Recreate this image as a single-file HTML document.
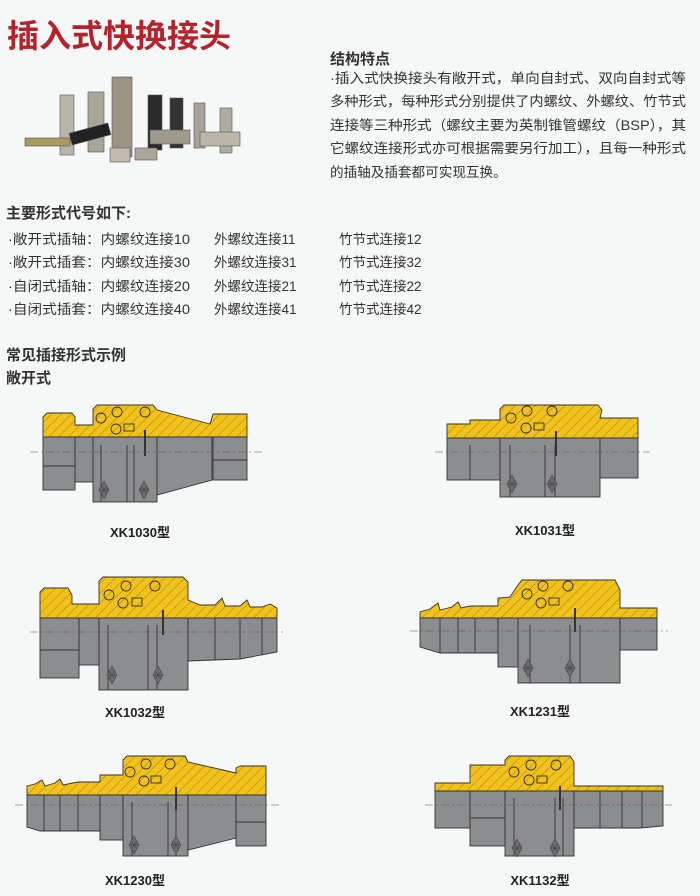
<!DOCTYPE html>
<html><head><meta charset="utf-8"><style>
html,body{margin:0;padding:0;background:#f6f7f7;}
svg{display:block}
text{font-family:"Liberation Sans","Noto Sans CJK SC",sans-serif;}
</style></head><body>
<svg width="700" height="896" viewBox="0 0 700 896" xmlns="http://www.w3.org/2000/svg">
<defs>
<pattern id="h" width="7" height="7" patternUnits="userSpaceOnUse" patternTransform="rotate(45)">
<rect width="7" height="7" fill="#f2c21c"/><line x1="0" y1="0" x2="0" y2="7" stroke="#8a6a10" stroke-width="0.8"/>
</pattern>
<g id="knurl"><path d="M0,-9 L5,0 L0,9 L-5,0Z" fill="#6b6c6e" stroke="#444" stroke-width="0.6"/><path d="M-3,-4 L3,4 M3,-4 L-3,4 M-4,0 L4,0" stroke="#333" stroke-width="0.5"/></g>
</defs>
<rect width="700" height="896" fill="#f6f7f7"/>

<text x="7" y="47" font-size="32" font-weight="bold" fill="#b4232c">插入式快换接头</text>

<!-- photo -->
<g stroke="#555" stroke-width="0.6">
<rect x="60" y="95" width="14" height="60" fill="#b8b4a8"/>
<rect x="88" y="92" width="16" height="60" fill="#a9a598"/>
<rect x="112" y="77" width="20" height="80" fill="#9d9583"/>
<rect x="148" y="95" width="14" height="55" fill="#2a2a2a"/>
<rect x="170" y="98" width="13" height="50" fill="#333"/>
<rect x="194" y="103" width="11" height="45" fill="#a8a49a"/>
<rect x="220" y="108" width="12" height="45" fill="#b0aca2"/>
<rect x="70" y="128" width="40" height="12" fill="#222" transform="rotate(-15 90 134)"/>
<rect x="25" y="138" width="45" height="8" fill="#a89a60"/>
<rect x="150" y="130" width="40" height="14" fill="#9e9a8c"/>
<rect x="200" y="132" width="40" height="14" fill="#bab6aa"/>
<rect x="135" y="148" width="22" height="12" fill="#aaa698"/>
<rect x="110" y="148" width="20" height="14" fill="#c0bcb0"/>
</g>

<text x="330" y="64" font-size="15" font-weight="bold" fill="#333">结构特点</text>
<g font-size="13.6" fill="#333">
<text x="330" y="83" textLength="356" lengthAdjust="spacingAndGlyphs">·插入式快换接头有敞开式，单向自封式、双向自封式等</text>
<text x="330" y="106" textLength="356" lengthAdjust="spacingAndGlyphs">多种形式，每种形式分别提供了内螺纹、外螺纹、竹节式</text>
<text x="330" y="130" textLength="356" lengthAdjust="spacingAndGlyphs">连接等三种形式（螺纹主要为英制锥管螺纹（BSP），其</text>
<text x="330" y="153" textLength="356" lengthAdjust="spacingAndGlyphs">它螺纹连接形式亦可根据需要另行加工），且每一种形式</text>
<text x="330" y="177">的插轴及插套都可实现互换。</text>
</g>

<text x="6" y="218" font-size="15" font-weight="bold" fill="#333">主要形式代号如下:</text>
<g font-size="13.5" fill="#333">
<text x="8" y="244" textLength="182" lengthAdjust="spacingAndGlyphs">·敞开式插轴：内螺纹连接10</text><text x="214" y="244">外螺纹连接11</text><text x="339" y="244">竹节式连接12</text>
<text x="8" y="267" textLength="182" lengthAdjust="spacingAndGlyphs">·敞开式插套：内螺纹连接30</text><text x="214" y="267">外螺纹连接31</text><text x="339" y="267">竹节式连接32</text>
<text x="8" y="291" textLength="182" lengthAdjust="spacingAndGlyphs">·自闭式插轴：内螺纹连接20</text><text x="214" y="291">外螺纹连接21</text><text x="339" y="291">竹节式连接22</text>
<text x="8" y="314" textLength="182" lengthAdjust="spacingAndGlyphs">·自闭式插套：内螺纹连接40</text><text x="214" y="314">外螺纹连接41</text><text x="339" y="314">竹节式连接42</text>
</g>
<text x="6" y="360" font-size="15" font-weight="bold" fill="#333">常见插接形式示例</text>
<text x="6" y="383" font-size="15" font-weight="bold" fill="#333">敞开式</text>

<g stroke="#333" stroke-width="0.9">
<!-- D1 XK1030 -->
<g fill="#8c8d8f">
<rect x="43" y="437" width="32" height="53"/><line x1="43" y1="466" x2="75" y2="466"/>
<rect x="75" y="437" width="18" height="45"/>
<rect x="93" y="437" width="64" height="65"/><line x1="101" y1="445" x2="101" y2="502"/><line x1="127" y1="445" x2="127" y2="502"/><line x1="134" y1="445" x2="134" y2="502"/>
<polygon points="157,437 212,437 212,480 157,495"/>
<rect x="213" y="437" width="34" height="43"/><line x1="213" y1="460" x2="247" y2="460"/>
</g>
<polygon fill="url(#h)" points="43,437 43,417 47,413 72,413 75,417 75,425 93,425 93,409 97,405 153,405 157,410 210,424 213,414 247,414 247,437"/>
<g fill="none"><circle cx="101" cy="418" r="5"/><circle cx="117" cy="412" r="5"/><circle cx="145" cy="412" r="5"/><circle cx="116" cy="429" r="5"/><rect x="124" y="424" width="10" height="7"/></g>
<line x1="145" y1="430" x2="145" y2="456" stroke-width="2"/>
<use href="#knurl" x="104" y="490"/><use href="#knurl" x="144" y="490"/>

<!-- D2 XK1031 -->
<g fill="#8c8d8f">
<rect x="447" y="438" width="53" height="42"/><line x1="470" y1="445" x2="470" y2="480"/>
<rect x="500" y="438" width="100" height="59"/><line x1="510" y1="445" x2="510" y2="497"/><line x1="545" y1="445" x2="545" y2="497"/><line x1="555" y1="445" x2="555" y2="497"/>
<rect x="600" y="438" width="38" height="40"/>
</g>
<polygon fill="url(#h)" points="447,438 447,424 470,424 470,420 500,420 500,409 504,405 598,405 602,410 600,418 638,418 638,438"/>
<g fill="none"><circle cx="511" cy="418" r="5"/><circle cx="527" cy="411" r="5"/><circle cx="552" cy="411" r="5"/><circle cx="526" cy="428" r="5"/><rect x="534" y="423" width="10" height="7"/></g>
<line x1="556" y1="431" x2="556" y2="456" stroke-width="2"/>
<use href="#knurl" x="512" y="484"/><use href="#knurl" x="552" y="484"/>

<!-- D3 XK1032 -->
<g fill="#8c8d8f">
<rect x="40" y="618" width="39" height="60"/><line x1="40" y1="650" x2="79" y2="650"/>
<rect x="79" y="618" width="20" height="47"/>
<rect x="99" y="618" width="89" height="72"/><line x1="108" y1="625" x2="108" y2="690"/><line x1="148" y1="625" x2="148" y2="690"/><line x1="157" y1="625" x2="157" y2="690"/>
<polygon points="188,618 277,618 277,652 240,659 188,661"/><line x1="215" y1="618" x2="215" y2="660"/><line x1="240" y1="618" x2="240" y2="659"/><line x1="262" y1="618" x2="262" y2="655"/>
</g>
<polygon fill="url(#h)" points="40,618 40,592 44,588 68,588 72,595 72,604 99,604 99,581 103,577 183,577 188,582 188,600 200,605 215,605 222,598 225,606 240,606 247,600 250,607 262,607 270,604 277,608 277,618"/>
<g fill="none"><circle cx="109" cy="595" r="5"/><circle cx="126" cy="586" r="5"/><circle cx="155" cy="586" r="5"/><circle cx="123" cy="603" r="5"/><rect x="132" y="598" width="10" height="8"/></g>
<line x1="163" y1="610" x2="163" y2="635" stroke-width="2"/>
<use href="#knurl" x="112" y="675"/><use href="#knurl" x="158" y="675"/>

<!-- D4 XK1231 -->
<g fill="#8c8d8f">
<polygon points="420,618 498,618 498,653 440,653 420,647"/><line x1="440" y1="618" x2="440" y2="653"/><line x1="458" y1="618" x2="458" y2="653"/><line x1="475" y1="618" x2="475" y2="653"/>
<rect x="498" y="618" width="20" height="49"/>
<rect x="518" y="618" width="102" height="65"/><line x1="530" y1="625" x2="530" y2="683"/><line x1="570" y1="625" x2="570" y2="683"/><line x1="580" y1="625" x2="580" y2="683"/>
<rect x="620" y="618" width="37" height="32"/>
</g>
<polygon fill="url(#h)" points="420,618 420,612 430,609 438,603 440,610 452,607 458,602 461,608 470,606 498,606 498,598 510,597 518,585 522,580 615,580 620,590 620,608 657,608 657,618"/>
<g fill="none"><circle cx="527" cy="594" r="5"/><circle cx="543" cy="586" r="5"/><circle cx="568" cy="586" r="5"/><circle cx="541" cy="603" r="5"/><rect x="549" y="598" width="10" height="7"/></g>
<line x1="575" y1="608" x2="575" y2="632" stroke-width="2"/>
<use href="#knurl" x="528" y="668"/><use href="#knurl" x="570" y="668"/>

<!-- D5 XK1230 -->
<g fill="#8c8d8f">
<polygon points="27,795 100,795 100,831 40,831 27,827"/><line x1="44" y1="795" x2="44" y2="831"/><line x1="60" y1="795" x2="60" y2="831"/><line x1="78" y1="795" x2="78" y2="831"/>
<rect x="100" y="795" width="23" height="45"/>
<rect x="123" y="795" width="65" height="61"/><line x1="132" y1="802" x2="132" y2="856"/><line x1="168" y1="802" x2="168" y2="856"/><line x1="176" y1="802" x2="176" y2="856"/>
<polygon points="188,795 236,795 236,838 188,850"/>
<rect x="236" y="795" width="30" height="51"/><line x1="236" y1="822" x2="266" y2="822"/>
</g>
<polygon fill="url(#h)" points="27,795 27,786 35,784 42,780 45,786 55,783 60,779 63,785 78,782 100,782 100,775 123,775 123,760 127,756 185,756 188,762 236,773 236,768 240,766 266,766 266,795"/>
<g fill="none"><circle cx="130" cy="772" r="5"/><circle cx="146" cy="764" r="5"/><circle cx="170" cy="764" r="5"/><circle cx="144" cy="781" r="5"/><rect x="151" y="776" width="10" height="7"/></g>
<line x1="176" y1="787" x2="176" y2="810" stroke-width="2"/>
<use href="#knurl" x="134" y="845"/><use href="#knurl" x="176" y="845"/>

<!-- D6 XK1132 -->
<g fill="#8c8d8f">
<rect x="435" y="791" width="35" height="37"/>
<rect x="470" y="791" width="35" height="55"/><line x1="470" y1="818" x2="505" y2="818"/>
<rect x="505" y="791" width="69" height="65"/><line x1="514" y1="798" x2="514" y2="856"/><line x1="555" y1="798" x2="555" y2="856"/><line x1="563" y1="798" x2="563" y2="856"/>
<polygon points="574,791 663,791 663,826 640,828 574,828"/><line x1="600" y1="791" x2="600" y2="828"/><line x1="622" y1="791" x2="622" y2="828"/><line x1="642" y1="791" x2="642" y2="828"/>
</g>
<polygon fill="url(#h)" points="435,791 435,783 470,783 470,765 505,765 505,760 509,756 570,756 574,762 574,786 663,786 663,791"/>
<g fill="none"><circle cx="514" cy="772" r="5"/><circle cx="531" cy="765" r="5"/><circle cx="556" cy="765" r="5"/><circle cx="529" cy="780" r="5"/><rect x="537" y="776" width="10" height="7"/></g>
<line x1="560" y1="786" x2="560" y2="810" stroke-width="2"/>
<use href="#knurl" x="517" y="848"/><use href="#knurl" x="555" y="848"/>
</g>

<g stroke="#555" stroke-width="0.6" stroke-dasharray="8,3,2,3">
<line x1="30" y1="452" x2="262" y2="452"/>
<line x1="435" y1="452" x2="650" y2="452"/>
<line x1="30" y1="632" x2="285" y2="632"/>
<line x1="410" y1="631" x2="668" y2="631"/>
<line x1="15" y1="805" x2="280" y2="805"/>
<line x1="425" y1="805" x2="672" y2="805"/>
</g>

<g font-size="13" font-weight="bold" fill="#222" text-anchor="middle">
<text x="140" y="537">XK1030型</text>
<text x="545" y="535">XK1031型</text>
<text x="135" y="717">XK1032型</text>
<text x="540" y="716">XK1231型</text>
<text x="135" y="885">XK1230型</text>
<text x="540" y="885">XK1132型</text>
</g>
</svg>
</body></html>
